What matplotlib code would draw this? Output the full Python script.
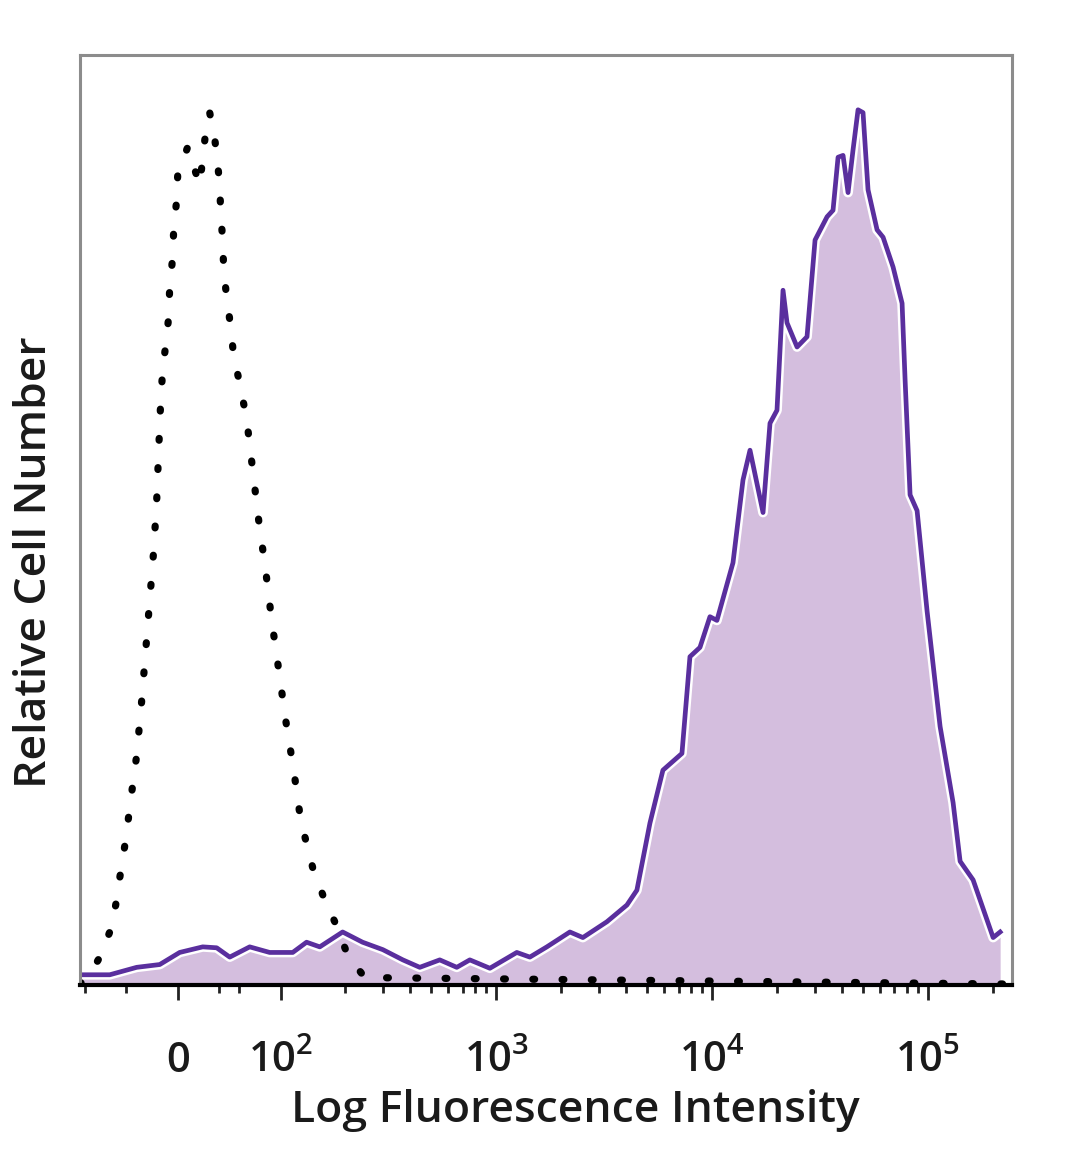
import matplotlib

matplotlib.use("Agg")
import matplotlib.pyplot as plt
import numpy as np

plt.rcParams["font.family"] = ["Open Sans", "DejaVu Sans"]

# stained sample (purple, filled) - fluorescence intensity vs relative count
stained_x = [-94.3, -66.1, -39.9, -17.5, 1.9, 24.3, 37.9, 50.6, 70.0, 89.4,
             113.9, 132, 152, 194, 240, 298, 369, 442, 547, 656,
             754, 934, 1245, 1431, 1716, 2194, 2520, 3257, 4033, 4486,
             5155, 5923, 7256, 7903, 8795, 9784, 10540, 12510, 13920, 15000,
             17240, 18570, 20010, 21340, 22270, 24790, 27570, 30040, 34150, 36390,
             38400, 40500, 42720, 45060, 47530, 50130, 52880, 58230, 62090, 69080,
             76050, 78520, 82830, 89260, 99310, 114100, 131100, 141300, 162300, 201000,
             216600]
stained_y = [1.1, 1.1, 1.9, 2.2, 3.5, 4.1, 4.0, 3.0, 4.1, 3.5,
             3.5, 4.6, 4.1, 5.7, 4.6, 3.8, 2.7, 1.9, 2.7, 1.9,
             2.7, 1.8, 3.5, 3.0, 4.1, 5.7, 5.1, 6.8, 8.6, 10.2,
             17.4, 23.1, 24.9, 35.3, 36.3, 39.6, 39.2, 45.4, 54.3, 57.5,
             50.8, 60.4, 61.8, 74.7, 71.2, 68.6, 69.7, 80.1, 82.6, 83.3,
             89.0, 89.2, 85.2, 89.8, 94.1, 93.8, 85.5, 81.2, 80.4, 77.2,
             73.3, 65.1, 52.7, 51.0, 40.2, 27.8, 19.6, 13.3, 11.3, 5.1,
             5.7]

# isotype control (dotted)
control_x = [-95.3, -85.5, -75.8, -66.1, -60.3, -56.4, -50.6, -45.7, -39.9, -35.0,
             -31.1, -27.2, -23.3, -20.4, -18.5, -16.5, -14.6, -11.7, -8.7, -7.8,
             -4.9, -3.9, -1.0, 0.0, 9.7, 13.6, 21.4, 27.2, 31.1, 36.0,
             37.9, 40.8, 41.8, 43.7, 44.7, 47.6, 51.5, 54.4, 60.3, 67.1,
             72.9, 78.7, 85.5, 91.4, 98.2, 105.6, 115.1, 124.0, 141.0, 156.9,
             178.3, 204.9, 245.7, 246000]
control_y = [0.1, 1.1, 3.0, 5.7, 8.6, 11.5, 15.6, 19.9, 24.7, 30.6,
             36.0, 41.4, 46.8, 52.2, 57.5, 62.9, 66.1, 68.8, 71.9, 75.1,
             78.2, 81.3, 84.4, 87.1, 90.1, 88.7, 86.0, 91.7, 93.8, 91.0,
             89.2, 86.2, 83.1, 80.1, 77.0, 73.9, 70.8, 67.6, 64.7, 60.8,
             55.4, 50.0, 44.6, 39.2, 33.9, 28.5, 23.1, 17.7, 12.6, 9.7,
             6.8, 3.2, 0.8, 0.1]

major_ticks = [0, 100, 1000, 10000, 100000]
major_labels = ["0", r"$\mathregular{10^2}$", r"$\mathregular{10^3}$",
                r"$\mathregular{10^4}$", r"$\mathregular{10^5}$"]
minor_ticks = [-90, -50, 40, 60] + [m * 10 ** e for e in (2, 3, 4) for m in range(2, 10)] + [200000]

fig = plt.figure(figsize=(10.8, 11.69), dpi=100)
ax = fig.add_axes([0.0741, 0.1574, 0.863, 0.7956])
ax.set_xscale("symlog", linthresh=100, linscale=0.429)
ax.set_xlim(-95, 246000)
ax.set_ylim(0, 100)

# filled histogram with inset white rim, then outline
ax.fill_between(stained_x, stained_y, 0, color="#d4bede", lw=0, zorder=1)
ax.plot(stained_x, stained_y, color="white", lw=7.0, solid_joinstyle="round", zorder=1.2)
ax.plot(stained_x, stained_y, color="#5a2f9e", lw=3.4, solid_joinstyle="round", zorder=1.4)
ax.plot(control_x, control_y, color="black", lw=5.2, linestyle=(0, (0.25, 3.8)),
        dash_capstyle="round", zorder=1.6)

for side in ["top", "left", "right"]:
    ax.spines[side].set_color("#8c8c8c")
    ax.spines[side].set_linewidth(2.2)
ax.spines["bottom"].set_color("black")
ax.spines["bottom"].set_linewidth(3.0)

ax.set_xticks(major_ticks)
ax.set_xticklabels(major_labels)
ax.set_xticks(minor_ticks, minor=True)
ax.xaxis.set_minor_formatter(plt.NullFormatter())
ax.tick_params(axis="x", which="major", direction="out", length=11, width=2, color="#222222",
               labelsize=30, labelcolor="#1a1a1a", pad=52)
ax.tick_params(axis="x", which="minor", direction="out", length=6, width=2, color="#222222")
for lab in ax.get_xticklabels():
    lab.set_va("baseline")
    lab.set_fontweight("semibold")
ax.set_yticks([])

ax.set_xlabel("Log Fluorescence Intensity", fontsize=32, color="#1a1a1a", fontweight="semibold")
ax.xaxis.set_label_coords(0.531, -0.112)
ax.set_ylabel("Relative Cell Number", fontsize=32, color="#1a1a1a", fontweight="semibold")
ax.yaxis.set_label_coords(-0.026, 0.455)

fig.savefig("out.png", dpi=100)
